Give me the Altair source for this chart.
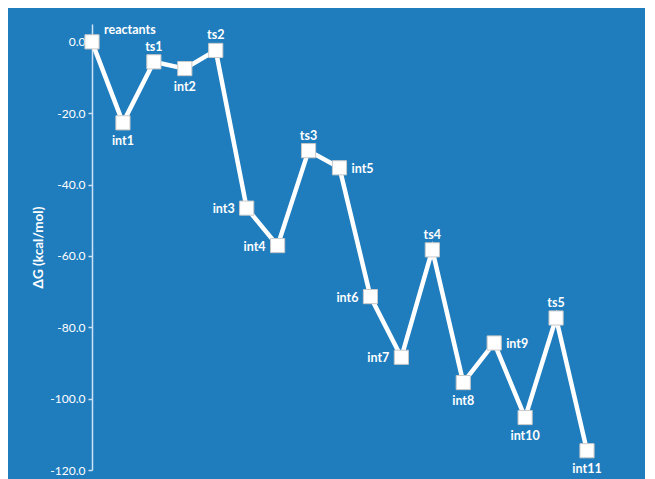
import altair as alt
import pandas as pd

steps = ["reactants", "int1", "ts1", "int2", "ts2", "int3", "int4", "ts3", "int5",
         "int6", "int7", "ts4", "int8", "int9", "int10", "ts5", "int11"]
energies = [0.0, -22.7, -5.6, -7.5, -2.4, -46.6, -57.1, -30.5, -35.3,
            -71.4, -88.4, -58.3, -95.5, -84.4, -105.3, -77.4, -114.6]
y_ticks = [-120, -100, -80, -60, -40, -20, 0]

label_side = {
    "reactants": "aboveright", "int1": "below", "ts1": "above", "int2": "below",
    "ts2": "above", "int3": "left", "int4": "left", "ts3": "above", "int5": "right",
    "int6": "left", "int7": "left", "ts4": "above", "int8": "below", "int9": "right",
    "int10": "below", "ts5": "above", "int11": "below",
}

df = pd.DataFrame({
    "idx": list(range(len(steps))),
    "step": steps,
    "dG": energies,
    "side": [label_side[s] for s in steps],
})

BG = "#1f7dbe"
FONT = "Lato"

base = alt.Chart(df).encode(
    x=alt.X("idx:Q", axis=None, scale=alt.Scale(domain=[0, 16], nice=False, zero=False)),
    y=alt.Y(
        "dG:Q",
        scale=alt.Scale(domain=[-120, 5], nice=False),
        axis=alt.Axis(
            values=y_ticks, grid=False,
            labelExpr="replace(format(datum.value, '.1f'), '\u2212', '-')",
            labelColor="white", labelFont=FONT, labelFontSize=12, labelPadding=3,
            tickColor="#cfe2f3", tickSize=4, tickWidth=1.5,
            domainColor="#cfe2f3", domainWidth=1.5,
            title="ΔG (kcal/mol)", titleColor="white", titleFont=FONT,
            titleFontWeight="bold", titleFontSize=13.5, titlePadding=4,
        ),
    ),
)

line = base.mark_line(color="white", strokeWidth=4.5)
pts = base.mark_point(shape="square", size=200, filled=True, fill="white",
                      stroke="#c9c9c9", strokeWidth=1, opacity=1)

offsets = {
    "above": dict(dx=0, dy=-15, align="center"),
    "below": dict(dx=0, dy=18, align="center"),
    "left": dict(dx=-12, dy=1, align="right"),
    "right": dict(dx=12, dy=1, align="left"),
    "aboveright": dict(dx=12, dy=-12, align="left"),
}

texts = []
for side, o in offsets.items():
    texts.append(
        base.transform_filter(alt.datum.side == side).mark_text(
            color="white", font=FONT, fontWeight="bold", fontSize=12.5,
            baseline="middle", **o
        ).encode(text="step:N")
    )

chart = alt.layer(line, pts, *texts).properties(
    width=495, height=446,
    background=BG,
    autosize=alt.AutoSizeParams(type="none"),
    padding={"left": 84, "top": 16, "right": 58, "bottom": 12},
).configure_view(stroke=None)

chart.save("out.html", embed_options={"renderer": "svg", "actions": False})
